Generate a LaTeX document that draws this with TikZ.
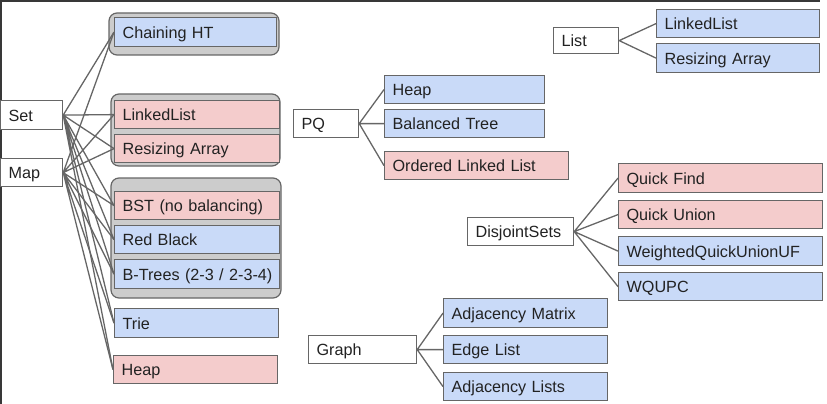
\documentclass[tikz,border=0pt]{standalone}
\usepackage{fontspec}
\setmainfont{Liberation Sans}
\definecolor{cellblue}{HTML}{C9DAF8}
\definecolor{cellred}{HTML}{F4CCCC}
\definecolor{groupgray}{HTML}{CCCCCC}
\definecolor{edgegray}{HTML}{666666}
\definecolor{inkgray}{HTML}{222222}
\tikzset{
  cell/.style={draw=edgegray, line width=1.2pt, anchor=north west, inner xsep=8pt, inner ysep=0pt,
    align=left, text height=12pt, text depth=0pt, text=inkgray,
    font=\fontsize{16.2}{19}\selectfont},
  bluecell/.style={cell, fill=cellblue},
  redcell/.style={cell, fill=cellred},
  whitecell/.style={cell, fill=white},
  group/.style={draw=edgegray, line width=1.2pt, fill=groupgray, rounded corners=8pt},
  link/.style={draw=edgegray, line width=1.3pt}
}
\begin{document}
\begin{tikzpicture}[x=1pt, y=-1pt]
	\useasboundingbox (0,0) rectangle (827,404);
	
	% Рамка
	\draw[line width=2pt, inkgray!90] (1,404) -- (1,1) -- (820,1);
	
	% Серые группы
	\draw[group] (109,13) rectangle (279,55);
	\draw[group] (111,94) rectangle (280,166);
	\draw[group] (111,178) rectangle (281,298);
	
	% Set и Map
	\node[whitecell, text width=46pt, minimum height=29pt] (set) at (0,100) {Set};
	\node[whitecell, text width=46pt, minimum height=28pt] (map) at (0,158) {Map};
	
	% Реализации Set/Map
	\node[bluecell, text width=146pt, minimum height=29pt] (cht) at (114,17) {Chaining HT};
	\node[redcell, text width=149pt, minimum height=28pt] (ll) at (114,100) {LinkedList};
	\node[redcell, text width=149pt, minimum height=28pt] (ra) at (114,134) {Resizing Array};
	\node[redcell, text width=149pt, minimum height=28pt] (bst) at (114,191) {BST (no balancing)};
	\node[bluecell, text width=149pt, minimum height=28pt] (rb) at (114,225) {Red Black};
	\node[bluecell, text width=149pt, minimum height=29pt] (bt) at (114,259) {\mbox{B-Trees (2-3 / 2-3-4)}};
	\node[bluecell, text width=148pt, minimum height=29pt] (trie) at (114,308) {Trie};
	\node[redcell, text width=148pt, minimum height=28pt] (heap) at (113,355) {Heap};
	
	% Связи Set -> реализации
	\draw[link] (set.east) -- (cht.west) (set.east) -- (ll.west) (set.east) -- (ra.west)
	  (set.east) -- (bst.west) (set.east) -- (rb.west) (set.east) -- (bt.west)
	  (set.east) -- (trie.west) (set.east) -- (heap.west);
	% Связи Map -> реализации
	\draw[link] (map.east) -- (cht.west) (map.east) -- (ll.west) (map.east) -- (ra.west)
	  (map.east) -- (bst.west) (map.east) -- (rb.west) (map.east) -- (bt.west)
	  (map.east) -- (trie.west) (map.east) -- (heap.west);
	
	% PQ
	\node[whitecell, text width=49pt, minimum height=28pt] (pq) at (293,109) {PQ};
	\node[bluecell, text width=144pt, minimum height=28pt] (pqheap) at (384,75) {Heap};
	\node[bluecell, text width=144pt, minimum height=28pt] (pqbt) at (384,109) {Balanced Tree};
	\node[redcell, text width=168pt, minimum height=28pt] (pqoll) at (384,151) {Ordered Linked List};
	\draw[link] (pq.east) -- (pqheap.west) (pq.east) -- (pqbt.west) (pq.east) -- (pqoll.west);
	
	% List
	\node[whitecell, text width=49pt, minimum height=26pt] (list) at (553,27) {List};
	\node[bluecell, text width=147pt, minimum height=28pt] (lll) at (656,9) {LinkedList};
	\node[bluecell, text width=147pt, minimum height=29pt] (lra) at (656,43) {Resizing Array};
	\draw[link] (list.east) -- (lll.west) (list.east) -- (lra.west);
	
	% DisjointSets
	\node[whitecell, text width=90pt, minimum height=28pt] (ds) at (467,217) {DisjointSets};
	\node[redcell, text width=188pt, minimum height=29pt] (qf) at (618,163) {Quick Find};
	\node[redcell, text width=188pt, minimum height=28pt] (qu) at (618,200) {Quick Union};
	\node[bluecell, text width=188pt, minimum height=29pt] (wq) at (618,236) {WeightedQuickUnionUF};
	\node[bluecell, text width=188pt, minimum height=28pt] (wqpc) at (618,272) {WQUPC};
	\draw[link] (ds.east) -- (qf.west) (ds.east) -- (qu.west) (ds.east) -- (wq.west) (ds.east) -- (wqpc.west);
	
	% Graph
	\node[whitecell, text width=92pt, minimum height=28pt] (graph) at (308,335) {Graph};
	\node[bluecell, text width=148pt, minimum height=29pt] (am) at (443,298) {Adjacency Matrix};
	\node[bluecell, text width=148pt, minimum height=28pt] (el) at (443,335) {Edge List};
	\node[bluecell, text width=148pt, minimum height=28pt] (al) at (443,372) {Adjacency Lists};
	\draw[link] (graph.east) -- (am.west) (graph.east) -- (el.west) (graph.east) -- (al.west);
\end{tikzpicture}
\end{document}
